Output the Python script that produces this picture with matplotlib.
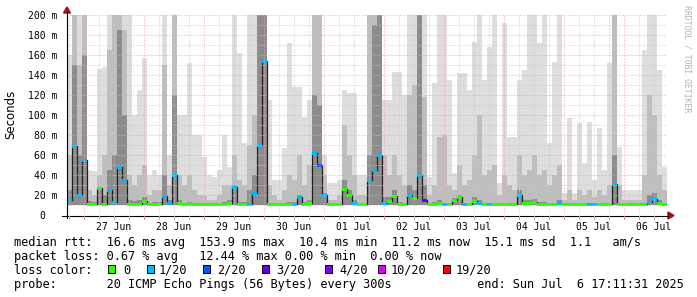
import matplotlib
matplotlib.use('Agg')
import matplotlib.pyplot as plt
import matplotlib.dates as mdates
from matplotlib.patches import Rectangle, Polygon
from matplotlib.lines import Line2D
import numpy as np
from datetime import datetime, timedelta

# ---------------- data ----------------
start = datetime(2025, 6, 26, 17, 11, 31)
end = datetime(2025, 7, 6, 17, 11, 31)
bin_hours = 2

median_ms = [15, 69, 20, 55, 10.6, 10.6, 27, 11, 25, 13,
             48, 35, 11, 10.6, 10.6, 14, 10.6, 10.6, 10.6, 19,
             12, 40, 12, 10.6, 10.6, 10.6, 10.6, 10.6, 10.6, 10.6,
             10.6, 10.6, 12, 28, 10.6, 10.6, 11, 22, 70, 154,
             10.6, 10.6, 10.6, 10.6, 10.6, 10.6, 18, 10.6, 12, 62,
             50, 20, 10.6, 10.6, 10.6, 26, 20, 12, 10.6, 10.6,
             35, 45, 60, 12, 14, 19, 10.6, 10.6, 20, 17,
             40, 15, 10.6, 11, 12, 10.6, 10.6, 15, 18, 10.6,
             10.6, 14, 12, 10.6, 10.6, 10.6, 10.6, 10.6, 10.6, 10.6,
             20, 12, 12, 13, 10.6, 11, 10.6, 10.6, 12, 10.6,
             10.6, 10.6, 10.6, 10.6, 10.6, 10.6, 10.6, 10.6, 11, 31,
             10.6, 10.6, 10.6, 10.6, 10.6, 10.6, 13, 16, 12, 10.6]

loss_idx = [1, 1, 1, 1, 0, 0, 0, 0, 1, 1,
            1, 1, 0, 0, 0, 0, 0, 0, 0, 1,
            1, 1, 0, 0, 0, 0, 0, 0, 0, 0,
            0, 0, 0, 1, 0, 0, 1, 1, 1, 1,
            0, 0, 0, 0, 0, 1, 1, 0, 0, 1,
            2, 1, 0, 0, 0, 0, 0, 1, 0, 0,
            1, 1, 1, 1, 0, 0, 0, 0, 1, 0,
            1, 3, 0, 0, 0, 1, 0, 0, 0, 1,
            0, 0, 1, 0, 1, 0, 0, 0, 0, 0,
            1, 0, 0, 0, 0, 0, 0, 0, 1, 0,
            0, 0, 0, 0, 1, 1, 0, 0, 0, 1,
            0, 0, 0, 0, 0, 0, 1, 1, 0, 0]

smoke_max = [160, 200, 200, 200, 45, 44, 146, 148, 200, 200,
             200, 200, 200, 100, 125, 157, 40, 45, 40, 200,
             60, 200, 100, 100, 152, 80, 80, 58, 40, 38,
             45, 80, 48, 200, 162, 72, 200, 200, 200, 200,
             115, 35, 35, 67, 172, 128, 128, 98, 115, 200,
             200, 60, 32, 32, 35, 125, 122, 122, 40, 40,
             200, 200, 200, 115, 115, 143, 143, 120, 200, 200,
             200, 200, 38, 132, 200, 200, 135, 42, 142, 142,
             125, 173, 200, 135, 168, 200, 32, 192, 78, 78,
             135, 145, 200, 200, 172, 200, 72, 153, 200, 22,
             97, 22, 92, 52, 93, 35, 87, 45, 152, 200,
             68, 25, 25, 25, 25, 165, 200, 200, 145, 48]

smoke_mid = [60, 200, 150, 200, 25, 20, 40, 60, 165, 200,
             200, 185, 40, 30, 40, 50, 20, 25, 25, 150,
             30, 200, 40, 30, 40, 25, 20, 20, 15, 15,
             20, 30, 30, 60, 35, 30, 70, 100, 200, 200,
             30, 20, 15, 25, 40, 35, 60, 30, 50, 200,
             200, 40, 15, 15, 20, 90, 60, 40, 20, 20,
             200, 200, 200, 60, 40, 60, 40, 30, 120, 130,
             200, 118, 20, 30, 78, 80, 30, 25, 50, 30,
             35, 60, 100, 40, 45, 50, 20, 40, 30, 25,
             60, 40, 45, 60, 40, 45, 30, 40, 50, 15,
             25, 15, 25, 20, 25, 18, 25, 20, 30, 200,
             30, 15, 15, 15, 15, 40, 120, 100, 40, 25]

smoke_dark = [25, 150, 60, 160, 14, 13, 28, 20, 45, 60,
              185, 100, 15, 14, 15, 18, 12, 13, 13, 40,
              15, 120, 15, 12, 13, 12, 12, 12, 11, 11,
              12, 13, 15, 30, 13, 13, 25, 40, 200, 200,
              12, 12, 11, 12, 13, 13, 20, 13, 15, 120,
              110, 22, 11, 11, 12, 35, 25, 15, 12, 12,
              60, 190, 200, 18, 18, 25, 13, 12, 30, 25,
              200, 30, 12, 13, 15, 12, 12, 17, 20, 12,
              12, 18, 15, 12, 12, 12, 11, 12, 12, 12,
              25, 15, 15, 16, 13, 13, 12, 12, 15, 11,
              11, 11, 11, 11, 11, 11, 11, 11, 12, 60,
              12, 11, 11, 11, 11, 12, 20, 22, 15, 12]

smoke_floor = 10.0

loss_labels = ['0', '1/20', '2/20', '3/20', '4/20', '10/20', '19/20']
loss_colors = ['#26ff00', '#00b8ff', '#0059ff', '#5e00ff', '#7e00ff', '#dd00ff', '#ff0000']
day_labels = ['27 Jun', '28 Jun', '29 Jun', '30 Jun', '01 Jul',
              '02 Jul', '03 Jul', '04 Jul', '05 Jul', '06 Jul']
ytick_vals = [0, 20, 40, 60, 80, 100, 120, 140, 160, 180, 200]
ytick_labels = ['0  ', '20 m', '40 m', '60 m', '80 m', '100 m', '120 m',
                '140 m', '160 m', '180 m', '200 m']

row1 = "median rtt:  16.6 ms avg  153.9 ms max  10.4 ms min  11.2 ms now  15.1 ms sd  1.1   am/s"
row2 = "packet loss: 0.67 % avg   12.44 % max 0.00 % min  0.00 % now"
row3_head = "loss color:"
row4 = "probe:       20 ICMP Echo Pings (56 Bytes) every 300s            end: Sun Jul  6 17:11:31 2025"
credit = "RRDTOOL / TOBI OETIKER"

# ---------------- layout ----------------
W, H = 697, 297
def fx(x): return x / W
def fy(y): return 1 - y / H

fig = plt.figure(figsize=(W / 100, H / 100), dpi=100)
fig.patch.set_facecolor('white')
ax = fig.add_axes([fx(67), fy(215), 600 / W, 200 / H])
ax.set_facecolor('white')

n = len(median_ms)
t = np.array([mdates.date2num(start + timedelta(hours=bin_hours * k)) for k in range(n)])
w = bin_hours / 24.0
med = np.array(median_ms, dtype=float)
smax = np.array(smoke_max, dtype=float)
smid = np.array(smoke_mid, dtype=float)
sdark = np.array(smoke_dark, dtype=float)

kw = dict(width=w, align='edge', linewidth=0, antialiased=False)
ax.bar(t, smax - smoke_floor, bottom=smoke_floor, color='#dedede', zorder=1, **kw)
ax.bar(t, smid - smoke_floor, bottom=smoke_floor, color='#bebebe', zorder=1.1, **kw)
ax.bar(t, sdark - smoke_floor, bottom=smoke_floor, color='#8c8c8c', zorder=1.2, **kw)

# median line + loss coloured marks
ax.step(np.r_[t, t[-1] + w], np.r_[med, med[-1]], where='post', color='#202020', lw=0.9, zorder=3)
ax.bar(t, 3.0, bottom=med - 1.5, color=[loss_colors[i] for i in loss_idx], zorder=4, **kw)

x0 = mdates.date2num(start)
x1 = mdates.date2num(end)
ax.set_xlim(x0, x1)
ax.set_ylim(0, 200)

# grid
minor_c = '#c8c8c8'
major_c = '#e8a8a8'
dot = (0, (1.0, 2.0))
d = datetime(2025, 6, 26, 18, 0)
while d < end:
    xv = mdates.date2num(d)
    if d.hour == 0:
        ax.axvline(xv, color=major_c, lw=0.72, ls=dot, zorder=6)
    else:
        ax.axvline(xv, color=minor_c, lw=0.72, ls=dot, zorder=5)
    d += timedelta(hours=6)
for yv in range(10, 201, 10):
    if yv % 20 == 0:
        ax.axhline(yv, color=major_c, lw=0.72, ls=dot, zorder=6)
    else:
        ax.axhline(yv, color=minor_c, lw=0.72, ls=dot, zorder=5)

for s in ax.spines.values():
    s.set_visible(False)

mono = 'DejaVu Sans Mono'
ax.set_yticks(ytick_vals)
ax.set_yticklabels(ytick_labels, fontfamily=mono, fontsize=7)
noons = [mdates.date2num(datetime(2025, 6, 27, 12) + timedelta(days=i)) for i in range(len(day_labels))]
ax.set_xticks(noons)
ax.set_xticklabels(day_labels, fontfamily=mono, fontsize=7)
ax.tick_params(axis='y', length=0, pad=7)
ax.tick_params(axis='x', length=0, pad=5)

# axes lines with arrows
fig.add_artist(Line2D([fx(62), fx(668)], [fy(215.5), fy(215.5)], color='black', lw=0.8))
fig.add_artist(Line2D([fx(67), fx(67)], [fy(218), fy(12)], color='black', lw=0.8))
fig.add_artist(Polygon([[fx(668), fy(212)], [fx(668), fy(219)], [fx(674), fy(215.5)]],
                       closed=True, color='#a01010', transform=fig.transFigure))
fig.add_artist(Polygon([[fx(63.5), fy(13)], [fx(70.5), fy(13)], [fx(67), fy(7)]],
                       closed=True, color='#a01010', transform=fig.transFigure))
# small tick marks below axis
d = datetime(2025, 6, 26, 18, 0)
while d < end:
    xp = 67 + (mdates.date2num(d) - x0) / (x1 - x0) * 600
    c = '#d08080' if d.hour == 0 else '#b0b0b0'
    fig.add_artist(Line2D([fx(xp), fx(xp)], [fy(216), fy(219)], color=c, lw=0.72))
    d += timedelta(hours=6)

# labels
fig.text(fx(11), fy(114), 'Seconds', rotation=90, ha='center', va='center',
         fontsize=8.5, fontfamily='DejaVu Sans', color='black')
fig.text(fx(687.5), fy(59), credit, rotation=-90, ha='center', va='center',
         fontsize=5.9, fontfamily=mono, color='#b4b4b4')

fs = 8.55
fig.text(fx(14.5), fy(246), row1, ha='left', va='baseline', fontsize=fs, fontfamily=mono)
fig.text(fx(14.5), fy(259.6), row2, ha='left', va='baseline', fontsize=fs, fontfamily=mono)
fig.text(fx(14.5), fy(273.6), row3_head, ha='left', va='baseline', fontsize=fs, fontfamily=mono)
fig.text(fx(14.5), fy(287.6), row4, ha='left', va='baseline', fontsize=fs, fontfamily=mono)

sq_x = [108, 147, 203, 262, 325, 378, 443]
lab_x = [123, 159, 217, 276, 339, 391, 456]
for i, lab in enumerate(loss_labels):
    fig.add_artist(Rectangle((fx(sq_x[i]), fy(272.5)), 7 / W, 7.5 / H, transform=fig.transFigure,
                             facecolor=loss_colors[i], edgecolor='black', lw=0.7))
    fig.text(fx(lab_x[i]), fy(273.6), lab, ha='left', va='baseline', fontsize=fs, fontfamily=mono)

fig.savefig('out.png', dpi=100)
